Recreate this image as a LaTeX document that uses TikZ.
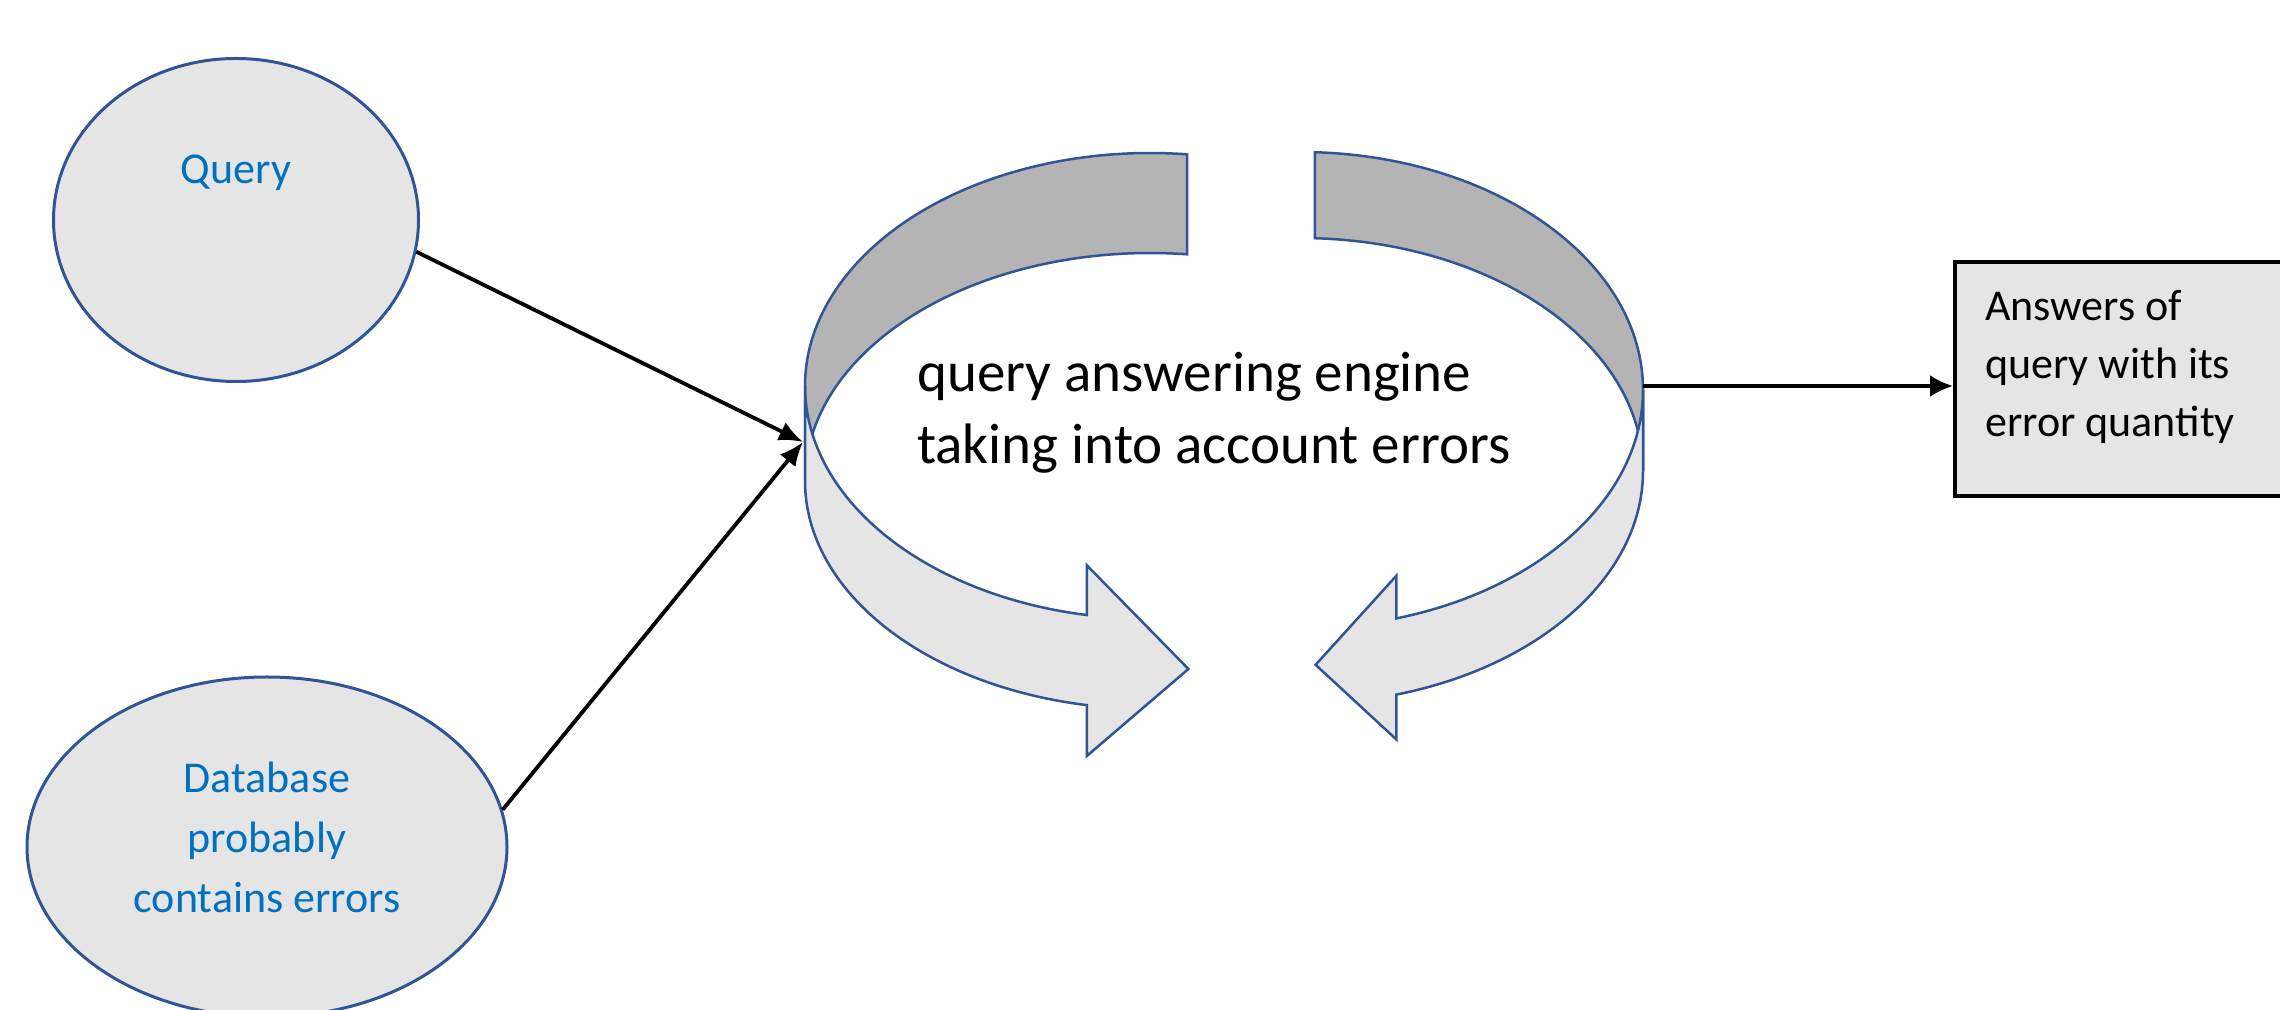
\documentclass[tikz,border=0pt]{standalone}
\usepackage{fontspec}
\setmainfont{Carlito}
\usetikzlibrary{shapes.geometric,arrows.meta,calc}
\definecolor{outline}{HTML}{2F5597}
\definecolor{txtblue}{HTML}{0070C0}
\definecolor{lightfill}{HTML}{E5E5E5}
\definecolor{darkfill}{HTML}{B4B4B4}
\tikzset{
  bubble/.style={ellipse, draw=outline, fill=lightfill, line width=3pt, inner sep=0pt},
  bubbletext/.style={text=txtblue, font=\fontsize{44}{58}\selectfont, inner sep=0pt, align=center},
  band back/.style={draw=outline, fill=darkfill, line width=2.5pt},
  band front/.style={draw=outline, fill=lightfill, line width=2.5pt},
  feed/.style={line width=3.8pt, -{Latex[length=24pt,width=20pt]}},
  plain text/.style={inner sep=0pt, align=left, text=black},
}
\begin{document}
\begin{tikzpicture}[x=1pt,y=1pt]
\useasboundingbox (0,0) rectangle (2280,1009);
\clip (0,0) rectangle (2280,1009);
\fill[white] (0,0) rectangle (2280,1009);

% input bubbles
\node[bubble, minimum width=365pt, minimum height=323pt] (query) at (236,789) {};
\node[bubbletext, anchor=base] (querytext) at (236,825) {Query};
\node[bubble, minimum width=480pt, minimum height=340pt] (db) at (267,162) {};
% base anchor of a multi-line node sits on its last line
\node[bubbletext, anchor=base, font=\fontsize{44}{60}\selectfont] (dbtext) at (267,96) {Database\\probably\\contains errors};

% engine: two curved ribbon arrows (top rim L1/R1, bottom rim L2/R2)
\coordinate (L1) at (1150,623);
\coordinate (L2) at (1150,528);
\coordinate (R1) at (1300,619);
\coordinate (R2) at (1300,538);

% inner (back) faces
\draw[band back] ($(L1)+(83.84:345 and 233)$)
  arc[start angle=83.84, end angle=180, x radius=345, y radius=233]
  -- ($(L2)+(180:345 and 228)$)
  arc[start angle=180, end angle=83.84, x radius=345, y radius=228] -- cycle;
\draw[band back] ($(R1)+(87.53:343 and 238)$)
  arc[start angle=87.53, end angle=0, x radius=343, y radius=238]
  -- ($(R2)+(0:343 and 233)$)
  arc[start angle=0, end angle=87.53, x radius=343, y radius=233] -- cycle;

% outer (front) faces with their heads
\draw[band front] ($(L1)+(180:345 and 233)$)
  -- ($(L2)+(180:345 and 228)$)
  arc[start angle=180, end angle=259.44, x radius=345, y radius=228]
  -- (1086.8,253) -- (1188.4,340) -- (1086.8,443.7)
  -- ($(L1)+(259.44:345 and 233)$)
  arc[start angle=259.44, end angle=180, x radius=345, y radius=233] -- cycle;
\draw[band front] ($(R1)+(0:343 and 238)$)
  -- ($(R2)+(0:343 and 233)$)
  arc[start angle=0, end angle=-73.68, x radius=343, y radius=233]
  -- (1396.4,269.5) -- (1315.6,344.2) -- (1396.4,433.3)
  -- ($(R1)+(-73.68:343 and 238)$)
  arc[start angle=-73.68, end angle=0, x radius=343, y radius=238] -- cycle;

\node[plain text, anchor=base west, font=\fontsize{57}{72}\selectfont] (engine) at (917,545)
  {query answering engine\\taking into account errors};

% result box
\node[draw=black, fill=lightfill, line width=3.5pt, minimum width=420pt, minimum height=234pt,
      anchor=west, inner sep=0pt] (ans) at (1953,630) {};
\node[plain text, anchor=base west, font=\fontsize{44}{58}\selectfont] (anstext) at (1985,572)
  {Answers of\\query with its\\error quantity};

% connectors
\coordinate (engin) at (803,567);
\coordinate (engout) at (1643,623);
\draw[feed] (query.-10) -- (engin);
\draw[feed] (db.9) -- (engin);
\draw[feed, -{Latex[length=23pt,width=22pt]}] (engout) -- (engout -| ans.west);
\end{tikzpicture}
\end{document}
